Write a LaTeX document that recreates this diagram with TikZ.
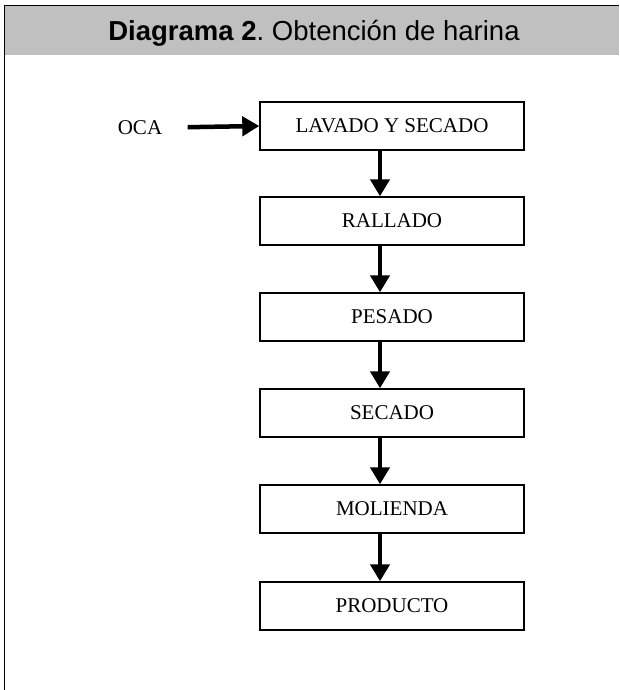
\documentclass[tikz,border=0pt]{standalone}
\usepackage{fontspec}
\setmainfont{Liberation Serif}
\setsansfont{Liberation Sans}
\usetikzlibrary{arrows.meta}
\frenchspacing

\definecolor{cabecera}{RGB}{192,192,192}

\tikzset{
  etapa/.style={draw, line width=1.4pt, minimum width=264pt, minimum height=48pt,
    inner sep=0pt, font=\fontsize{21}{24}\selectfont},
  flecha/.style={line width=4.5pt, -{Triangle[length=17pt,width=19pt]}}
}

\begin{document}
\begin{tikzpicture}[x=1pt,y=-1pt]

   \useasboundingbox (0,0) rectangle (619,690);

   % cabecera
   \fill[cabecera] (4,6) rectangle (619,55);
   \draw[line width=1.6pt] (4,5.5) -- (619,5.5);
   \draw[line width=1.6pt] (4.5,5) -- (4.5,690);
   \node (titulo) at (314,33) {\sffamily\fontsize{27.5}{30}\selectfont\textbf{Diagrama 2}. Obtención de harina};

   % etapas
   \node[font=\fontsize{21}{24}\selectfont] (oca) at (140,128) {OCA};
   \node[etapa] (lavado)   at (392,126) {LAVADO Y SECADO};
   \node[etapa] (rallado)  at (392,221) {RALLADO};
   \node[etapa] (pesado)   at (392,317) {PESADO};
   \node[etapa] (secado)   at (392,413) {SECADO};
   \node[etapa] (molienda) at (392,509) {MOLIENDA};
   \node[etapa] (producto) at (392,606) {PRODUCTO};

   % flechas
   \draw[flecha, shorten <=22pt] (oca) -- (lavado.west);
   \foreach \a/\b in {lavado/rallado, rallado/pesado, pesado/secado, secado/molienda, molienda/producto}
     \draw[flecha] ([xshift=-12pt]\a.south) -- ([xshift=-12pt]\b.north);

\end{tikzpicture}
\end{document}
